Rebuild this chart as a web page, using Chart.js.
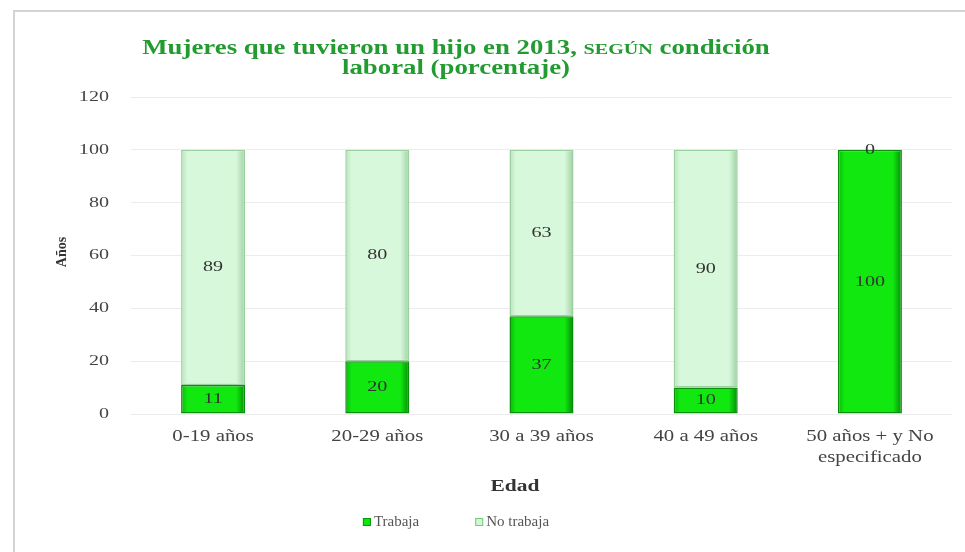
<!DOCTYPE html>
<html lang="es">
<head>
<meta charset="utf-8">
<title>Mujeres que tuvieron un hijo en 2013</title>
<script src="https://cdn.jsdelivr.net/npm/chart.js@4.4.1/dist/chart.umd.min.js"></script>
<style>
  html, body { margin: 0; padding: 0; background: #ffffff; }
  #wrap { width: 965px; height: 552px; position: relative; }
</style>
</head>
<body>
<div id="wrap"><canvas id="chart" width="965" height="552"></canvas></div>
<script>
// Age groups and share of women by employment status (%)
const categories = ['0-19 años', '20-29 años', '30 a 39 años', '40 a 49 años', ['50 años + y No', 'especificado']];
const trabaja = [11, 20, 37, 10, 100];
const noTrabaja = [89, 80, 63, 90, 0];
const yTicks = [0, 20, 40, 60, 80, 100, 120];

const SERIF = '"Liberation Serif", "DejaVu Serif", serif';
const WIDE = 1.34; // horizontal widening of the serif lettering

// Text drawn with a horizontal widening factor
function wideText(ctx, text, x, y, align, sx) {
  const w = ctx.measureText(text).width * sx;
  let left = x;
  if (align === 'center') left = x - w / 2;
  else if (align === 'right') left = x - w;
  ctx.save();
  ctx.translate(left, y);
  ctx.scale(sx, 1);
  ctx.textAlign = 'left';
  ctx.fillText(text, 0, 0);
  ctx.restore();
  return w;
}

// Horizontal shading across one bar, darker at the edges
function barShade(ctx, edgeL, mid, edgeR) {
  const chart = ctx.chart;
  const xs = chart.scales && chart.scales.x;
  if (!xs || !chart.chartArea) return mid;
  const cx = xs.getPixelForValue(ctx.dataIndex);
  const half = xs.width / categories.length * 0.39 / 2;
  const g = chart.ctx.createLinearGradient(cx - half, 0, cx + half, 0);
  g.addColorStop(0, edgeL);
  g.addColorStop(0.1, mid);
  g.addColorStop(0.86, mid);
  g.addColorStop(1, edgeR);
  return g;
}

// Frame, title, axis labels and legend
const decorations = {
  id: 'decorations',
  beforeDraw(chart) {
    const ctx = chart.ctx;
    ctx.save();
    ctx.fillStyle = '#ffffff';
    ctx.fillRect(0, 0, chart.width, chart.height);
    ctx.strokeStyle = '#d4d4d4';
    ctx.lineWidth = 2;
    ctx.strokeRect(14, 11, chart.width + 10, chart.height + 10);
    ctx.restore();
  },
  afterDraw(chart) {
    const ctx = chart.ctx;
    ctx.save();
    ctx.textBaseline = 'alphabetic';

    // Title, with the small-caps word
    const big = 'bold 20px ' + SERIF;
    const small = 'bold 15px ' + SERIF;
    const parts = [
      ['Mujeres que tuvieron un hijo en 2013, ', big],
      ['SEGÚN', small],
      [' condición', big]
    ];
    let total = 0;
    parts.forEach(p => { ctx.font = p[1]; total += ctx.measureText(p[0]).width * WIDE; });
    const cx = 456;
    let x = cx - total / 2;
    ctx.fillStyle = '#229c30';
    parts.forEach(p => {
      ctx.font = p[1];
      x += wideText(ctx, p[0], x, 54, 'left', WIDE);
    });
    ctx.font = big;
    wideText(ctx, 'laboral (porcentaje)', cx, 74, 'center', WIDE);

    // Y tick labels
    const ys = chart.scales.y, xs = chart.scales.x;
    ctx.font = '15px ' + SERIF;
    ctx.fillStyle = '#444444';
    ctx.textBaseline = 'middle';
    yTicks.forEach(v => wideText(ctx, String(v), 109, ys.getPixelForValue(v), 'right', WIDE));

    // X tick labels
    ctx.font = '16px ' + SERIF;
    ctx.textBaseline = 'top';
    categories.forEach((c, i) => {
      const lines = Array.isArray(c) ? c : [c];
      const px = xs.getPixelForValue(i);
      lines.forEach((ln, k) => wideText(ctx, ln, px, 429 + k * 21, 'center', WIDE - 0.04));
    });

    // Axis titles
    ctx.fillStyle = '#333333';
    ctx.font = 'bold 16px ' + SERIF;
    ctx.textBaseline = 'middle';
    wideText(ctx, 'Edad', 515, 487, 'center', WIDE);
    ctx.save();
    ctx.translate(62, 252);
    ctx.rotate(-Math.PI / 2);
    ctx.font = 'bold 14px ' + SERIF;
    ctx.textAlign = 'center';
    ctx.fillText('Años', 0, 0);
    ctx.restore();

    // Legend
    ctx.font = '15px ' + SERIF;
    ctx.textBaseline = 'middle';
    const items = chart.data.datasets.map(d => ({ label: d.label, color: d.legendColor, border: d.legendBorder }));
    const box = 8, gap = 3, spacing = 56;
    let w = 0;
    items.forEach((it, i) => { w += box + gap + ctx.measureText(it.label).width + (i < items.length - 1 ? spacing : 0); });
    let lx = 456 - w / 2;
    const ly = 522;
    items.forEach(it => {
      ctx.fillStyle = it.color;
      ctx.fillRect(lx, ly - box / 2, box, box);
      ctx.strokeStyle = it.border;
      ctx.lineWidth = 1;
      ctx.strokeRect(lx + 0.5, ly - box / 2 + 0.5, box - 1, box - 1);
      lx += box + gap;
      ctx.fillStyle = '#555555';
      ctx.textAlign = 'left';
      ctx.fillText(it.label, lx, ly);
      lx += ctx.measureText(it.label).width + spacing;
    });
    ctx.restore();
  }
};

// Value labels centred in each stacked segment
const valueLabels = {
  id: 'valueLabels',
  afterDatasetsDraw(chart) {
    const ctx = chart.ctx;
    ctx.save();
    ctx.font = '15px ' + SERIF;
    ctx.fillStyle = '#333333';
    ctx.textBaseline = 'middle';
    chart.data.datasets.forEach((ds, di) => {
      const meta = chart.getDatasetMeta(di);
      meta.data.forEach((bar, i) => {
        const props = bar.getProps(['x', 'y', 'base'], true);
        const cy = (props.y + props.base) / 2;
        wideText(ctx, String(ds.data[i]), props.x, cy, 'center', WIDE);
      });
    });
    ctx.restore();
  }
};

new Chart(document.getElementById('chart'), {
  type: 'bar',
  data: {
    labels: categories,
    datasets: [
      {
        label: 'Trabaja',
        data: trabaja,
        legendColor: '#0ee60e',
        legendBorder: '#079a07',
        backgroundColor: ctx => barShade(ctx, '#08b808', '#10e810', '#068a06'),
        borderColor: '#0a8f0a',
        borderWidth: 1.5,
        borderSkipped: false,
        barPercentage: 0.78,
        categoryPercentage: 0.5
      },
      {
        label: 'No trabaja',
        data: noTrabaja,
        legendColor: '#d3f7d6',
        legendBorder: '#6fcf78',
        backgroundColor: ctx => barShade(ctx, '#b4e4b8', '#d8f8db', '#9ccfa1'),
        borderColor: '#9ccf9f',
        borderWidth: 1.5,
        borderSkipped: false,
        barPercentage: 0.78,
        categoryPercentage: 0.5
      }
    ]
  },
  options: {
    responsive: false,
    animation: false,
    devicePixelRatio: 1,
    layout: { padding: { top: 97, right: 13, left: 0, bottom: 0 } },
    plugins: {
      legend: { display: false },
      title: { display: false },
      tooltip: { enabled: false }
    },
    scales: {
      x: {
        stacked: true,
        grid: { display: false },
        border: { display: false },
        ticks: { display: false },
        afterFit(scale) { scale.height = 138; }
      },
      y: {
        stacked: true,
        min: 0,
        max: 120,
        afterBuildTicks(scale) { scale.ticks = yTicks.map(v => ({ value: v })); },
        grid: { color: '#ececec', lineWidth: 1, drawTicks: false },
        border: { display: false },
        ticks: { display: false },
        afterFit(scale) { scale.width = 131; }
      }
    }
  },
  plugins: [decorations, valueLabels]
});
</script>
</body>
</html>
